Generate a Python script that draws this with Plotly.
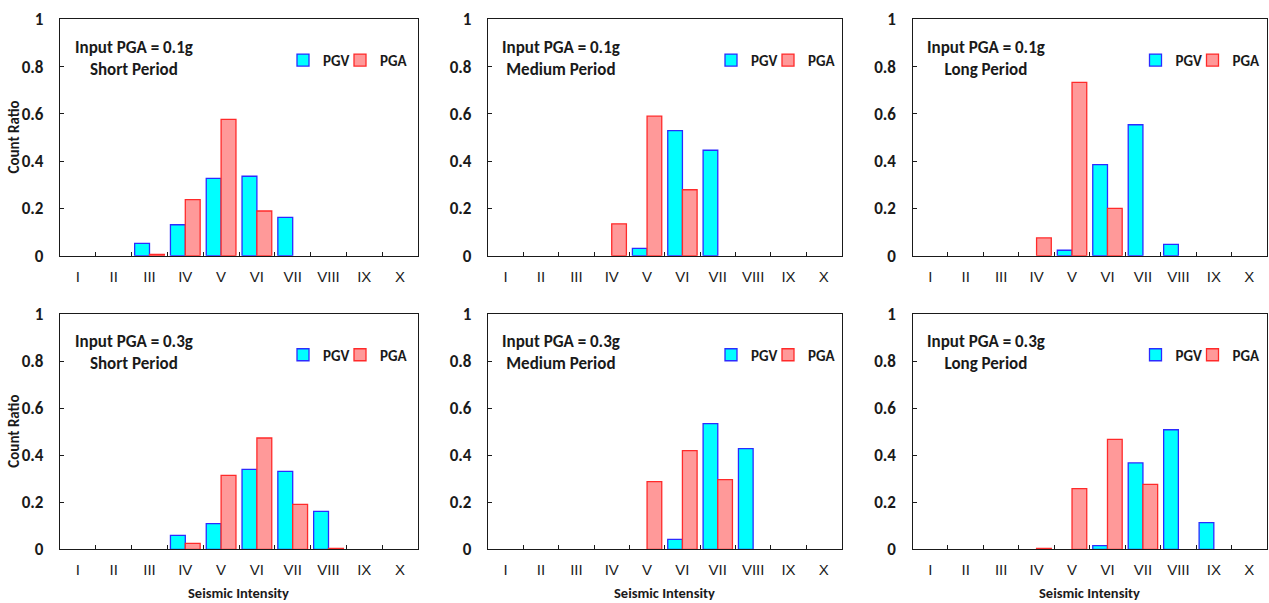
import plotly.graph_objects as go

W, H = 1269, 603

intensity = ["I", "II", "III", "IV", "V", "VI", "VII", "VIII", "IX", "X"]
ratio_ticks = [0, 0.2, 0.4, 0.6, 0.8, 1]

# Count ratio of each seismic intensity class, by input PGA and period band
pgv_01_short = [0, 0, 0.052, 0.131, 0.327, 0.336, 0.162, 0, 0, 0]
pga_01_short = [0, 0, 0.006, 0.237, 0.577, 0.189, 0, 0, 0, 0]
pgv_01_medium = [0, 0, 0, 0, 0.031, 0.529, 0.446, 0, 0, 0]
pga_01_medium = [0, 0, 0, 0.135, 0.590, 0.279, 0, 0, 0, 0]
pgv_01_long = [0, 0, 0, 0, 0.023, 0.385, 0.554, 0.048, 0, 0]
pga_01_long = [0, 0, 0, 0.075, 0.733, 0.200, 0, 0, 0, 0]

pgv_03_short = [0, 0, 0, 0.059, 0.109, 0.340, 0.331, 0.161, 0, 0]
pga_03_short = [0, 0, 0, 0.025, 0.314, 0.473, 0.191, 0.004, 0, 0]
pgv_03_medium = [0, 0, 0, 0, 0, 0.042, 0.534, 0.428, 0, 0]
pga_03_medium = [0, 0, 0, 0, 0.288, 0.419, 0.296, 0, 0, 0]
pgv_03_long = [0, 0, 0, 0, 0, 0.016, 0.367, 0.508, 0.113, 0]
pga_03_long = [0, 0, 0, 0.004, 0.258, 0.467, 0.276, 0, 0, 0]

panel_labels = [
    "Input PGA = 0.1g<br>Short Period",
    "Input PGA = 0.1g<br>Medium Period",
    "Input PGA = 0.1g<br>Long Period",
    "Input PGA = 0.3g<br>Short Period",
    "Input PGA = 0.3g<br>Medium Period",
    "Input PGA = 0.3g<br>Long Period",
]
panel_series = [
    (pgv_01_short, pga_01_short),
    (pgv_01_medium, pga_01_medium),
    (pgv_01_long, pga_01_long),
    (pgv_03_short, pga_03_short),
    (pgv_03_medium, pga_03_medium),
    (pgv_03_long, pga_03_long),
]

BOLD = "Carlito, Lato, 'Open Sans', sans-serif"
NARROW = "'Liberation Sans Narrow', 'Arial Narrow', 'Liberation Sans', Arial, sans-serif"
INK = "#1a1a1a"

series_style = [
    ("PGV", "#00FFFF", "#2b2bff", 223),
    ("PGA", "#FF9999", "#ff2a2a", 280),
]

# plot-area boxes in pixels: columns (left, right) and rows (top, bottom)
cols_px = [(60, 418), (488, 841.5), (912.5, 1267)]
rows_px = [(19.3, 255.7), (314, 549.3)]

fig = go.Figure()
x_pos = list(range(1, len(intensity) + 1))

for i, values in enumerate(panel_series):
    r, c = divmod(i, 3)
    n = i + 1
    xa = "x" if n == 1 else f"x{n}"
    ya = "y" if n == 1 else f"y{n}"
    x0, x1 = cols_px[c]
    top, bot = rows_px[r]
    pw, ph = x1 - x0, bot - top

    # one small legend per series so each key sits where it belongs
    for k, (vals, (name, fill, edge, key_dx)) in enumerate(zip(values, series_style)):
        li = 2 * i + k + 1
        lg = "legend" if li == 1 else f"legend{li}"
        fig.add_trace(go.Bar(
            x=x_pos, y=[v if v > 0 else None for v in vals], name=name,
            marker=dict(color=fill, line=dict(color=edge, width=1.3)),
            xaxis=xa, yaxis=ya, legend=lg,
        ))
        fig.layout[lg] = dict(
            orientation="h", xanchor="left", yanchor="middle",
            x=(x0 + key_dx) / W, y=1 - (top + 41) / H,
            bgcolor="rgba(0,0,0,0)", borderwidth=0,
            font=dict(family=BOLD, size=15, color=INK, weight="bold"),
            itemclick=False, itemdoubleclick=False,
        )

    xdom = [x0 / W, x1 / W]
    ydom = [1 - bot / H, 1 - top / H]
    xkey = "xaxis" if n == 1 else f"xaxis{n}"
    ykey = "yaxis" if n == 1 else f"yaxis{n}"

    fig.layout[xkey] = dict(
        domain=xdom, anchor=ya, range=[0.5, 10.5], automargin=False,
        tickmode="array", tickvals=x_pos, ticktext=intensity,
        ticks="", ticklabelstandoff=7,
        tickfont=dict(family=NARROW, size=15, color=INK),
        minor=dict(tickmode="array", tickvals=[k + 0.5 for k in range(1, 10)],
                   ticks="inside", ticklen=4, tickcolor=INK, tickwidth=1),
        showline=True, linecolor=INK, linewidth=1.3, mirror=True,
        showgrid=False, zeroline=False, fixedrange=True,
    )
    fig.layout[ykey] = dict(
        domain=ydom, anchor=xa, range=[0, 1], automargin=False,
        tickmode="array", tickvals=ratio_ticks,
        ticktext=[f"{t:g}" for t in ratio_ticks],
        ticks="inside", ticklen=4, tickcolor=INK, ticklabelstandoff=12,
        tickfont=dict(family=BOLD, size=17, color=INK, weight="bold"),
        showline=True, linecolor=INK, linewidth=1.3, mirror=True,
        showgrid=False, zeroline=False, fixedrange=True,
    )

    fig.add_annotation(
        xref=f"{xa} domain", yref=f"{ya} domain",
        x=0.207, y=0.836, text=panel_labels[i], showarrow=False,
        align="center", xanchor="center", yanchor="middle",
        font=dict(family=BOLD, size=17, color=INK, weight="bold"),
    )

    # axis titles: y on the left column, x on the bottom row
    if c == 0:
        fig.add_annotation(
            xref=f"{xa} domain", yref=f"{ya} domain",
            x=-46 / pw, y=0.5, text="Count Ratio", textangle=-90,
            showarrow=False, xanchor="center", yanchor="middle",
            font=dict(family=BOLD, size=15, color=INK, weight="bold"),
        )
    if r == 1:
        fig.add_annotation(
            xref=f"{xa} domain", yref=f"{ya} domain",
            x=0.5, y=-44 / ph, text="Seismic Intensity",
            showarrow=False, xanchor="center", yanchor="middle",
            font=dict(family=BOLD, size=14.5, color=INK, weight="bold"),
        )

fig.update_layout(
    width=W, height=H,
    margin=dict(l=0, r=0, t=0, b=0, autoexpand=False),
    paper_bgcolor="white", plot_bgcolor="white",
    barmode="group", bargap=0.17, bargroupgap=0,
    showlegend=True,
)

fig.write_html("out.html", config={"displayModeBar": False})
